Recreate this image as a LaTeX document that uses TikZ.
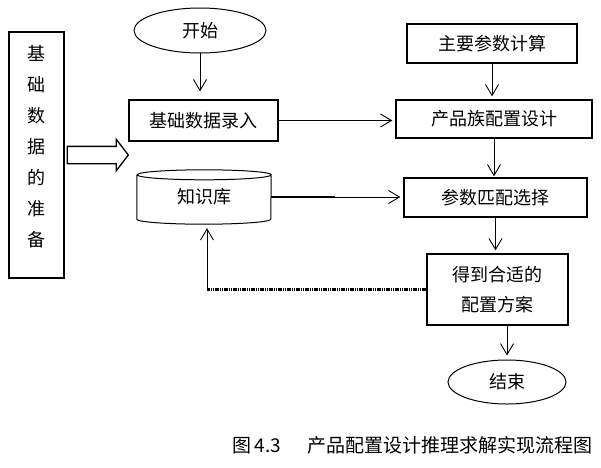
\documentclass[tikz,border=0pt]{standalone}
\usepackage{fontspec}
\newfontfamily\cjkfont{Noto Sans CJK SC}
\usetikzlibrary{arrows.meta,positioning,shapes.geometric,shapes.arrows}

\newcommand{\flowfont}{\cjkfont\fontsize{18}{30}\selectfont}

\tikzset{
  flowbox/.style={draw, line width=1.3pt, inner sep=0pt, align=center, font=\flowfont},
  termnode/.style={draw, ellipse, line width=1pt, inner sep=0pt, font=\flowfont},
  flow/.style={-{Straight Barb[length=11pt,width=13pt]}, line width=0.9pt, shorten >=3pt},
}

\begin{document}
\begin{tikzpicture}[x=1pt, y=1pt]
\useasboundingbox[fill=white] (0,0) rectangle (601,467);

\node[flowbox, minimum width=55pt, minimum height=246pt] (prep) at (36.5,312) {};
\node[inner sep=0pt, align=center, font=\cjkfont\fontsize{18}{31}\selectfont, below=14pt of prep.north] (prepText) {基\\础\\数\\据\\的\\准\\备};
\node[single arrow, draw, line width=1.3pt, inner xsep=0pt, inner ysep=8pt, minimum height=61pt, single arrow head extend=7pt, single arrow tip angle=105, right=2pt of prep.east] (prepArrow) {};

\node[termnode, minimum width=132pt, minimum height=45pt] (start) at (200,436.5) {开始};
\node[flowbox, minimum width=149pt, minimum height=41pt] (input) at (203.5,346.5) {基础数据录入};
\node[flowbox, minimum width=170pt, minimum height=39pt] (calc) at (492,423.5) {主要参数计算};
\node[flowbox, minimum width=196pt, minimum height=38pt] (design) at (494,348) {产品族配置设计};
\node[flowbox, minimum width=183pt, minimum height=39pt] (match) at (495.5,269.5) {参数匹配选择};
\node[inner sep=0pt, minimum width=134pt, minimum height=54pt, font=\flowfont] (kb) at (204,270) {知识库};
\node[flowbox, minimum width=141pt, minimum height=71pt] (result) at (497.5,177.5) {得到合适的\\配置方案};
\node[termnode, minimum width=118pt, minimum height=44pt] (finish) at (507,85) {结束};
\node[font=\cjkfont\fontsize{19}{22}\selectfont, inner sep=0pt] (caption) at (412.5,22) {图\hspace{3pt}4.3\hspace{26pt}产品配置设计推理求解实现流程图};

% knowledge base drum
\draw[line width=1pt] ([yshift=-5pt]kb.north west) -- ([yshift=5pt]kb.south west)
  arc[start angle=180, end angle=360, x radius=67pt, y radius=5pt]
  -- ([yshift=-5pt]kb.north east)
  arc[start angle=0, end angle=360, x radius=67pt, y radius=5pt];

\coordinate (kbJoin) at (335,270);
\coordinate (backCorner) at (207,176);

\draw[flow, shorten >=8pt] (start.south) -- (start.south |- input.north);
\draw[flow] (input.east) -- (input.east -| design.west);
\draw[flow] (calc.south) -- (calc.south |- design.north);
\draw[flow, shorten >=1pt] (design.south) -- (design.south |- match.north);
\draw[flow] (match.south) -- (match.south |- result.north);
\draw[flow, shorten >=4pt] (finish.north |- result.south) -- (finish.north);
\draw[line width=2.4pt] (kb.east) -- (kbJoin);
\draw[flow] (kbJoin) -- (kbJoin -| match.west);
\draw[line width=2.2pt, dash pattern=on 1.2pt off 0.6pt] (result.west) -- (result.west -| backCorner);
\draw[flow, shorten >=4pt] (backCorner) -- (backCorner |- kb.south);
\end{tikzpicture}
\end{document}
